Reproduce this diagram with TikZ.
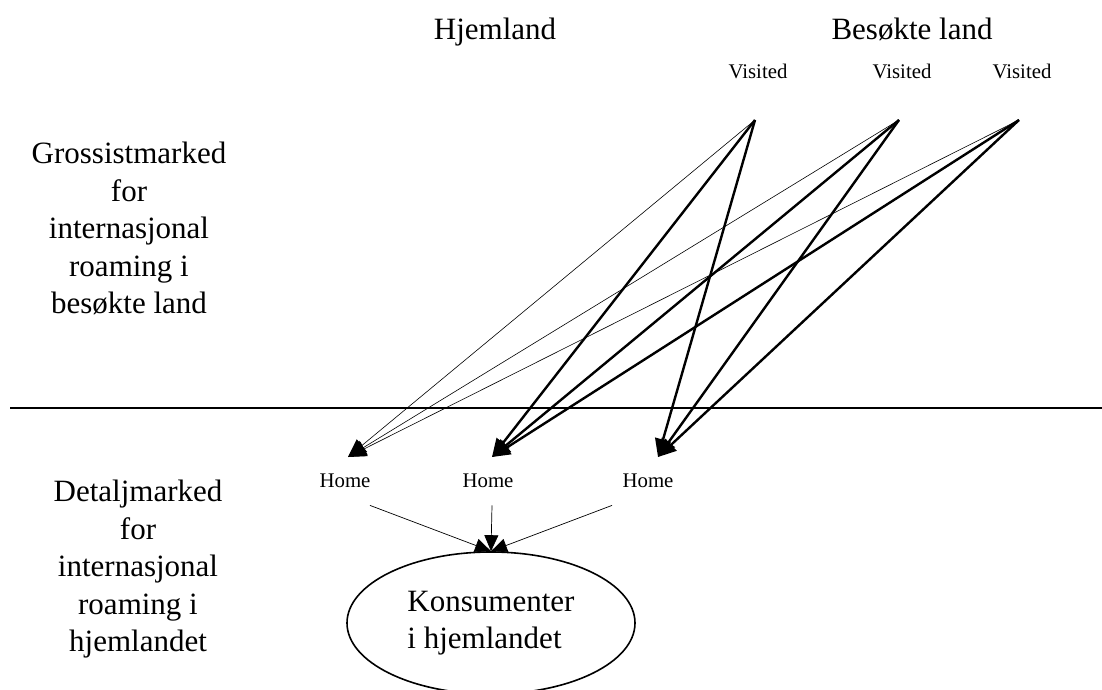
\documentclass[tikz,border=0pt]{standalone}
\usepackage{fontspec}
\setmainfont{Liberation Serif}
\usetikzlibrary{arrows.meta, positioning, shapes.geometric}
\newcommand{\largetxt}{\fontsize{31}{37.5}\selectfont}
\newcommand{\smalltxt}{\fontsize{20.8}{25}\selectfont}

\begin{document}
\begin{tikzpicture}[x=1pt, y=-1pt,
    heading/.style={font=\largetxt, inner sep=0pt, anchor=base},
    market/.style={font=\largetxt, inner sep=0pt, align=center, anchor=north},
    operator/.style={font=\smalltxt, inner sep=0pt, anchor=base},
    consumer/.style={draw, ellipse, line width=1.6pt, font=\largetxt, align=left, minimum width=288pt, minimum height=142pt},
    wholesale/.style={-{Triangle[length=18pt, width=16pt]}, line width=#1},
    retail/.style={-{Triangle[length=16pt, width=14pt]}, line width=0.7pt},
]
\useasboundingbox (0,0) rectangle (1102,690);

% Headings
\node[heading] (hjem) at (495,40) {Hjemland};
\node[heading] (besokt) at (912,40) {Besøkte land};

% Market labels
\node[market] (gross) at (129,142) {Grossistmarked\\for\\internasjonal\\roaming i\\besøkte land};
\node[market] (detalj) at (138,480) {Detaljmarked\\for\\internasjonal\\roaming i\\hjemlandet};

% Border between the markets
\coordinate (skille-v) at (10,408);
\coordinate (skille-h) at (1102,408);
\draw[line width=2pt] (skille-v) -- (skille-h);

% Visited operators
\node[operator] (vis1) at (758,79) {Visited};
\node[operator] (vis2) at (902,79) {Visited};
\node[operator] (vis3) at (1022,79) {Visited};
\coordinate (v1) at (755,120);
\coordinate (v2) at (899,120);
\coordinate (v3) at (1019,120);

% Home operators
\node[operator] (home1) at (345,487) {Home};
\node[operator] (home2) at (488,487) {Home};
\node[operator] (home3) at (648,487) {Home};
\coordinate (h1) at (348,457);
\coordinate (h2) at (492,457);
\coordinate (h3) at (658,457);

% Consumers
\node[consumer] (kons) at (491,623) {Konsumenter\\i hjemlandet};

% Wholesale links
\foreach \v in {v1,v2,v3} {
  \draw[wholesale=0.6pt] (\v) -- (h1);
  \draw[wholesale=2.4pt] (\v) -- (h2);
  \draw[wholesale=2.4pt] (\v) -- (h3);
}

% Retail links
\draw[retail] ([shift={(25,18)}]home1.south) -- (kons.north);
\draw[retail] ([shift={(4,18)}]home2.south) -- (kons.north);
\draw[retail] ([shift={(-36,18)}]home3.south) -- (kons.north);

\end{tikzpicture}
\end{document}
